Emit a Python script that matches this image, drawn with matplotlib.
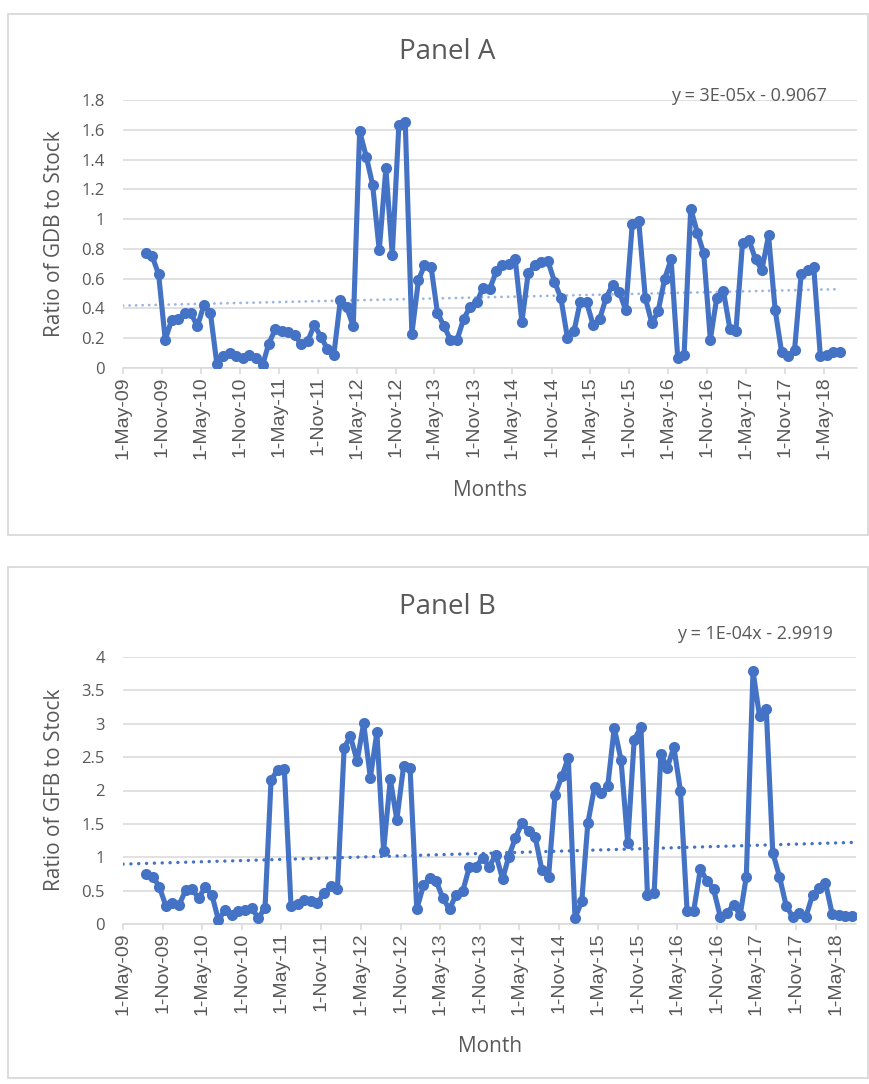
"""Panel A / Panel B ratio charts (Excel style line + dotted linear trend)."""

import matplotlib
matplotlib.use("Agg")
import matplotlib.pyplot as plt
import matplotlib.dates as mdates
from matplotlib.patches import Rectangle
from matplotlib.ticker import FuncFormatter, MultipleLocator
import numpy as np
import pandas as pd

# monthly observations, Aug 2009 .. Jul 2018
months = pd.date_range("2009-08-01", periods=108, freq="MS") + pd.Timedelta(days=14)

gdb_ratio = [
    0.77, 0.75, 0.63, 0.19, 0.32, 0.33, 0.37, 0.37, 0.28, 0.42, 0.37,
    0.03, 0.08, 0.10, 0.08, 0.07, 0.09, 0.07, 0.02,
    0.16, 0.26, 0.25, 0.24, 0.22, 0.16, 0.18, 0.29, 0.21, 0.13, 0.09,
    0.46, 0.41, 0.28, 1.59,
    1.42, 1.23, 0.79, 1.34, 0.76, 1.63, 1.65, 0.23,
    0.59, 0.69, 0.68, 0.37, 0.28, 0.19, 0.19,
    0.33, 0.41, 0.44, 0.54, 0.53, 0.65, 0.69, 0.70, 0.73,
    0.31, 0.64, 0.69, 0.71, 0.72, 0.58, 0.47,
    0.20, 0.25, 0.44, 0.44, 0.29, 0.33,
    0.47, 0.56, 0.51, 0.39, 0.97, 0.99,
    0.47, 0.30, 0.38, 0.60, 0.73, 0.07, 0.09,
    1.07, 0.91, 0.77, 0.19, 0.47, 0.52, 0.26, 0.25,
    0.84, 0.86, 0.73, 0.66, 0.89, 0.39,
    0.11, 0.08, 0.12, 0.63, 0.66, 0.68,
    0.08, 0.09, 0.11, 0.11,
]

gfb_ratio = [
    0.75, 0.71, 0.56, 0.27, 0.32, 0.29, 0.51, 0.52, 0.39, 0.55, 0.44,
    0.06, 0.21, 0.14, 0.19, 0.21, 0.24, 0.09, 0.24,
    2.16, 2.31, 2.32,
    0.27, 0.30, 0.36, 0.34, 0.32, 0.46, 0.57, 0.52,
    2.64, 2.81, 2.44, 3.01, 2.19, 2.87, 1.10, 2.17, 1.56, 2.36, 2.34,
    0.22, 0.58, 0.69, 0.64, 0.39, 0.22, 0.44, 0.49,
    0.86, 0.86, 0.99, 0.86, 1.04, 0.67, 1.01, 1.29, 1.51, 1.39, 1.31, 0.81, 0.71,
    1.94, 2.21, 2.49, 0.09, 0.34,
    1.51, 2.05, 1.96, 2.07, 2.94, 2.46, 1.22, 2.76, 2.95,
    0.44, 0.47, 2.55, 2.34, 2.65, 2.00, 0.19, 0.19,
    0.82, 0.65, 0.52, 0.11, 0.16, 0.29, 0.14, 0.71,
    3.79, 3.11, 3.22, 1.07,
    0.71, 0.27, 0.11, 0.16, 0.11, 0.44, 0.54, 0.62, 0.15, 0.14, 0.12, 0.12,
]

TXT = "#595959"
GRID = "#D9D9D9"
BLUE = "#4472C4"
FONT = "Open Sans"

W, H = 870, 1084
fig = plt.figure(figsize=(W / 100, H / 100), dpi=100)


def px(x, y):
    return x / W, 1 - y / H


def box(top, bottom):
    r = Rectangle(px(8, bottom), (868 - 8) / W, (bottom - top) / H,
                  transform=fig.transFigure, fill=False,
                  edgecolor=GRID, linewidth=1.3)
    fig.add_artist(r)


def date_fmt(v, _pos):
    d = mdates.num2date(v)
    return f"{d.day}-{d.strftime('%b-%y')}"


def panel(rect, values, xmax, ymax, ystep, trend_col, trend_lw, yfmt):
    ax = fig.add_axes(rect)
    x = mdates.date2num(months.to_pydatetime())
    y = np.array(values)

    # linear trend fitted on serial dates, like Excel
    slope, icpt = np.polyfit(x, y, 1)
    x0 = mdates.date2num(pd.Timestamp("2009-05-01"))
    x1 = mdates.date2num(pd.Timestamp(xmax))
    tx = np.array([x0, x[-1]])
    ax.plot(tx, slope * tx + icpt, color=trend_col, lw=trend_lw,
            linestyle=(0, (0.05, 2.3)), dash_capstyle="round", zorder=2)

    ax.plot(x, y, color=BLUE, lw=3.7, marker="o", markersize=8,
            markeredgewidth=0, zorder=3)

    ax.set_xlim(x0, x1)
    ax.set_ylim(0, ymax)
    ax.yaxis.set_major_locator(MultipleLocator(ystep))
    ax.yaxis.set_major_formatter(FuncFormatter(yfmt))
    ax.xaxis.set_major_locator(mdates.MonthLocator(bymonth=[5, 11], bymonthday=1))
    ax.xaxis.set_major_formatter(FuncFormatter(date_fmt))

    ax.grid(axis="y", color=GRID, lw=1.1)
    ax.set_axisbelow(True)
    for s in ("top", "right", "left"):
        ax.spines[s].set_visible(False)
    ax.spines["bottom"].set_color(GRID)
    ax.spines["bottom"].set_linewidth(1.1)
    ax.tick_params(axis="y", length=0, pad=13, labelcolor=TXT, labelsize=12)
    ax.tick_params(axis="x", direction="out", length=4, width=1.1, color=GRID,
                   pad=2, labelcolor=TXT, labelsize=14, labelrotation=90)
    for t in ax.get_yticklabels():
        t.set_fontfamily(FONT)
    for t in ax.get_xticklabels():
        t.set_fontfamily("Liberation Sans")
    return ax, slope, icpt


# ── Panel A ─────────────────────────────────────────────────────────────
box(14, 535)
l, b = px(123, 368)
panel([l, b, (857 - 123) / W, 268 / H], gdb_ratio, "2018-10-04", 1.8, 0.2,
      "#9DB5E0", 2.0, lambda v, p: "0" if abs(v) < 1e-9 else f"{v:g}")
fig.text(*px(447, 52), "Panel A", ha="center", va="center",
         fontsize=20, color=TXT, family=FONT)
fig.text(*px(827, 96), "y = 3E-05x - 0.9067", ha="right", va="center",
         fontsize=13, color=TXT, family=FONT)
fig.text(*px(55, 234), "Ratio of GDB to Stock", rotation=90, ha="center",
         va="center", fontsize=15, color=TXT, family=FONT)
fig.text(*px(490, 491), "Months", ha="center", va="center",
         fontsize=15, color=TXT, family=FONT)

# ── Panel B ─────────────────────────────────────────────────────────────
box(567, 1078)
l, b = px(123, 924)
panel([l, b, (856 - 123) / W, 267 / H], gfb_ratio, "2018-08-03", 4.0, 0.5,
      BLUE, 2.4, lambda v, p: "0" if abs(v) < 1e-9 else f"{v:g}")
fig.text(*px(447, 607), "Panel B", ha="center", va="center",
         fontsize=20, color=TXT, family=FONT)
fig.text(*px(833, 634), "y = 1E-04x - 2.9919", ha="right", va="center",
         fontsize=13, color=TXT, family=FONT)
fig.text(*px(55, 790), "Ratio of GFB to Stock", rotation=90, ha="center",
         va="center", fontsize=15, color=TXT, family=FONT)
fig.text(*px(490, 1047), "Month", ha="center", va="center",
         fontsize=15, color=TXT, family=FONT)

fig.savefig("out.png", dpi=100, facecolor="white")
